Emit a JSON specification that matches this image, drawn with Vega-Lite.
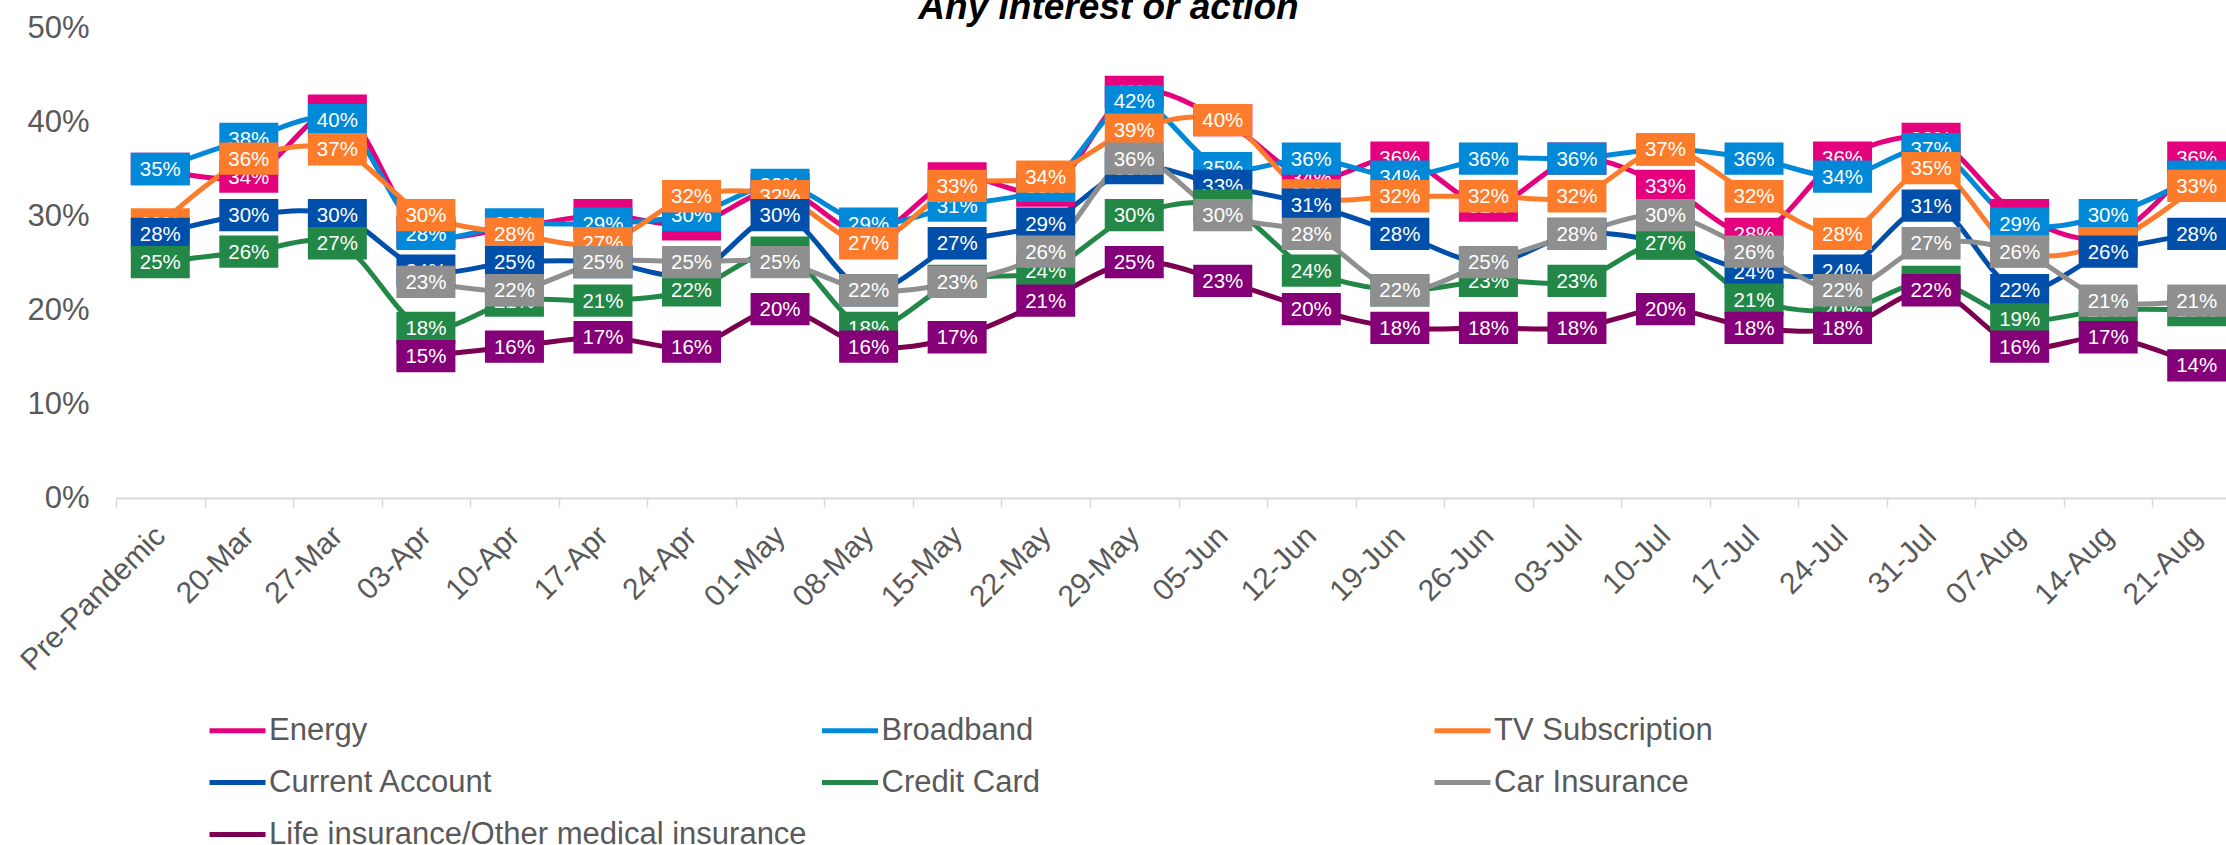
{
  "$schema": "https://vega.github.io/schema/vega-lite/v6.json",
  "width": 2125,
  "height": 470,
  "autosize": {"type": "none"},
  "padding": {"left": 116, "top": 28, "right": -15, "bottom": 347},
  "background": "white",
  "title": {"text": "Any interest or action", "font": "Liberation Sans", "fontSize": 37, "fontWeight": "bold", "fontStyle": "italic", "color": "#000000", "anchor": "middle", "frame": "group", "baseline": "alphabetic", "offset": 6, "dx": -70, "dy": 50},
  "config": {"view": {"stroke": null}, "font": "Liberation Sans"},
  "datasets": {
    "d": [
      {"d":"Pre-Pandemic","s":"Energy","v":0.350},{"d":"20-Mar","s":"Energy","v":0.342},{"d":"27-Mar","s":"Energy","v":0.412},{"d":"03-Apr","s":"Energy","v":0.283},{"d":"10-Apr","s":"Energy","v":0.288},{"d":"17-Apr","s":"Energy","v":0.301},{"d":"24-Apr","s":"Energy","v":0.291},{"d":"01-May","s":"Energy","v":0.328},{"d":"08-May","s":"Energy","v":0.280},{"d":"15-May","s":"Energy","v":0.340},{"d":"22-May","s":"Energy","v":0.327},{"d":"29-May","s":"Energy","v":0.432},{"d":"05-Jun","s":"Energy","v":0.402},{"d":"12-Jun","s":"Energy","v":0.340},{"d":"19-Jun","s":"Energy","v":0.362},{"d":"26-Jun","s":"Energy","v":0.311},{"d":"03-Jul","s":"Energy","v":0.361},{"d":"10-Jul","s":"Energy","v":0.332},{"d":"17-Jul","s":"Energy","v":0.281},{"d":"24-Jul","s":"Energy","v":0.362},{"d":"31-Jul","s":"Energy","v":0.382},{"d":"07-Aug","s":"Energy","v":0.301},{"d":"14-Aug","s":"Energy","v":0.277},{"d":"21-Aug","s":"Energy","v":0.362},
      {"d":"Pre-Pandemic","s":"Broadband","v":0.350},{"d":"20-Mar","s":"Broadband","v":0.382},{"d":"27-Mar","s":"Broadband","v":0.402},{"d":"03-Apr","s":"Broadband","v":0.281},{"d":"10-Apr","s":"Broadband","v":0.291},{"d":"17-Apr","s":"Broadband","v":0.292},{"d":"24-Apr","s":"Broadband","v":0.301},{"d":"01-May","s":"Broadband","v":0.333},{"d":"08-May","s":"Broadband","v":0.292},{"d":"15-May","s":"Broadband","v":0.311},{"d":"22-May","s":"Broadband","v":0.332},{"d":"29-May","s":"Broadband","v":0.422},{"d":"05-Jun","s":"Broadband","v":0.351},{"d":"12-Jun","s":"Broadband","v":0.361},{"d":"19-Jun","s":"Broadband","v":0.342},{"d":"26-Jun","s":"Broadband","v":0.361},{"d":"03-Jul","s":"Broadband","v":0.361},{"d":"10-Jul","s":"Broadband","v":0.371},{"d":"17-Jul","s":"Broadband","v":0.361},{"d":"24-Jul","s":"Broadband","v":0.342},{"d":"31-Jul","s":"Broadband","v":0.371},{"d":"07-Aug","s":"Broadband","v":0.292},{"d":"14-Aug","s":"Broadband","v":0.301},{"d":"21-Aug","s":"Broadband","v":0.342},
      {"d":"Pre-Pandemic","s":"TV Subscription","v":0.291},{"d":"20-Mar","s":"TV Subscription","v":0.361},{"d":"27-Mar","s":"TV Subscription","v":0.371},{"d":"03-Apr","s":"TV Subscription","v":0.301},{"d":"10-Apr","s":"TV Subscription","v":0.281},{"d":"17-Apr","s":"TV Subscription","v":0.271},{"d":"24-Apr","s":"TV Subscription","v":0.321},{"d":"01-May","s":"TV Subscription","v":0.321},{"d":"08-May","s":"TV Subscription","v":0.271},{"d":"15-May","s":"TV Subscription","v":0.332},{"d":"22-May","s":"TV Subscription","v":0.342},{"d":"29-May","s":"TV Subscription","v":0.392},{"d":"05-Jun","s":"TV Subscription","v":0.402},{"d":"12-Jun","s":"TV Subscription","v":0.322},{"d":"19-Jun","s":"TV Subscription","v":0.321},{"d":"26-Jun","s":"TV Subscription","v":0.321},{"d":"03-Jul","s":"TV Subscription","v":0.321},{"d":"10-Jul","s":"TV Subscription","v":0.371},{"d":"17-Jul","s":"TV Subscription","v":0.321},{"d":"24-Jul","s":"TV Subscription","v":0.281},{"d":"31-Jul","s":"TV Subscription","v":0.351},{"d":"07-Aug","s":"TV Subscription","v":0.262},{"d":"14-Aug","s":"TV Subscription","v":0.271},{"d":"21-Aug","s":"TV Subscription","v":0.332},
      {"d":"Pre-Pandemic","s":"Current Account","v":0.281},{"d":"20-Mar","s":"Current Account","v":0.301},{"d":"27-Mar","s":"Current Account","v":0.301},{"d":"03-Apr","s":"Current Account","v":0.242},{"d":"10-Apr","s":"Current Account","v":0.251},{"d":"17-Apr","s":"Current Account","v":0.251},{"d":"24-Apr","s":"Current Account","v":0.238},{"d":"01-May","s":"Current Account","v":0.301},{"d":"08-May","s":"Current Account","v":0.221},{"d":"15-May","s":"Current Account","v":0.271},{"d":"22-May","s":"Current Account","v":0.292},{"d":"29-May","s":"Current Account","v":0.351},{"d":"05-Jun","s":"Current Account","v":0.332},{"d":"12-Jun","s":"Current Account","v":0.312},{"d":"19-Jun","s":"Current Account","v":0.281},{"d":"26-Jun","s":"Current Account","v":0.250},{"d":"03-Jul","s":"Current Account","v":0.281},{"d":"10-Jul","s":"Current Account","v":0.271},{"d":"17-Jul","s":"Current Account","v":0.240},{"d":"24-Jul","s":"Current Account","v":0.242},{"d":"31-Jul","s":"Current Account","v":0.311},{"d":"07-Aug","s":"Current Account","v":0.221},{"d":"14-Aug","s":"Current Account","v":0.262},{"d":"21-Aug","s":"Current Account","v":0.281},
      {"d":"Pre-Pandemic","s":"Credit Card","v":0.251},{"d":"20-Mar","s":"Credit Card","v":0.262},{"d":"27-Mar","s":"Credit Card","v":0.271},{"d":"03-Apr","s":"Credit Card","v":0.181},{"d":"10-Apr","s":"Credit Card","v":0.210},{"d":"17-Apr","s":"Credit Card","v":0.210},{"d":"24-Apr","s":"Credit Card","v":0.221},{"d":"01-May","s":"Credit Card","v":0.261},{"d":"08-May","s":"Credit Card","v":0.181},{"d":"15-May","s":"Credit Card","v":0.231},{"d":"22-May","s":"Credit Card","v":0.242},{"d":"29-May","s":"Credit Card","v":0.301},{"d":"05-Jun","s":"Credit Card","v":0.311},{"d":"12-Jun","s":"Credit Card","v":0.242},{"d":"19-Jun","s":"Credit Card","v":0.221},{"d":"26-Jun","s":"Credit Card","v":0.231},{"d":"03-Jul","s":"Credit Card","v":0.231},{"d":"10-Jul","s":"Credit Card","v":0.271},{"d":"17-Jul","s":"Credit Card","v":0.211},{"d":"24-Jul","s":"Credit Card","v":0.200},{"d":"31-Jul","s":"Credit Card","v":0.230},{"d":"07-Aug","s":"Credit Card","v":0.190},{"d":"14-Aug","s":"Credit Card","v":0.200},{"d":"21-Aug","s":"Credit Card","v":0.200},
      {"d":"03-Apr","s":"Car Insurance","v":0.230},{"d":"10-Apr","s":"Car Insurance","v":0.221},{"d":"17-Apr","s":"Car Insurance","v":0.251},{"d":"24-Apr","s":"Car Insurance","v":0.251},{"d":"01-May","s":"Car Insurance","v":0.251},{"d":"08-May","s":"Car Insurance","v":0.221},{"d":"15-May","s":"Car Insurance","v":0.230},{"d":"22-May","s":"Car Insurance","v":0.262},{"d":"29-May","s":"Car Insurance","v":0.361},{"d":"05-Jun","s":"Car Insurance","v":0.301},{"d":"12-Jun","s":"Car Insurance","v":0.281},{"d":"19-Jun","s":"Car Insurance","v":0.221},{"d":"26-Jun","s":"Car Insurance","v":0.251},{"d":"03-Jul","s":"Car Insurance","v":0.281},{"d":"10-Jul","s":"Car Insurance","v":0.301},{"d":"17-Jul","s":"Car Insurance","v":0.262},{"d":"24-Jul","s":"Car Insurance","v":0.221},{"d":"31-Jul","s":"Car Insurance","v":0.271},{"d":"07-Aug","s":"Car Insurance","v":0.262},{"d":"14-Aug","s":"Car Insurance","v":0.210},{"d":"21-Aug","s":"Car Insurance","v":0.210},
      {"d":"03-Apr","s":"Life insurance/Other medical insurance","v":0.151},{"d":"10-Apr","s":"Life insurance/Other medical insurance","v":0.161},{"d":"17-Apr","s":"Life insurance/Other medical insurance","v":0.171},{"d":"24-Apr","s":"Life insurance/Other medical insurance","v":0.161},{"d":"01-May","s":"Life insurance/Other medical insurance","v":0.201},{"d":"08-May","s":"Life insurance/Other medical insurance","v":0.161},{"d":"15-May","s":"Life insurance/Other medical insurance","v":0.171},{"d":"22-May","s":"Life insurance/Other medical insurance","v":0.210},{"d":"29-May","s":"Life insurance/Other medical insurance","v":0.251},{"d":"05-Jun","s":"Life insurance/Other medical insurance","v":0.231},{"d":"12-Jun","s":"Life insurance/Other medical insurance","v":0.201},{"d":"19-Jun","s":"Life insurance/Other medical insurance","v":0.181},{"d":"26-Jun","s":"Life insurance/Other medical insurance","v":0.181},{"d":"03-Jul","s":"Life insurance/Other medical insurance","v":0.181},{"d":"10-Jul","s":"Life insurance/Other medical insurance","v":0.201},{"d":"17-Jul","s":"Life insurance/Other medical insurance","v":0.181},{"d":"24-Jul","s":"Life insurance/Other medical insurance","v":0.181},{"d":"31-Jul","s":"Life insurance/Other medical insurance","v":0.221},{"d":"07-Aug","s":"Life insurance/Other medical insurance","v":0.161},{"d":"14-Aug","s":"Life insurance/Other medical insurance","v":0.171},{"d":"21-Aug","s":"Life insurance/Other medical insurance","v":0.141}
    ]
  },
  "data": {"name": "d"},
  "encoding": {
    "x": {"field": "d", "type": "nominal",
      "scale": {"type": "band", "paddingInner": 0, "paddingOuter": 0, "domain": ["Pre-Pandemic","20-Mar","27-Mar","03-Apr","10-Apr","17-Apr","24-Apr","01-May","08-May","15-May","22-May","29-May","05-Jun","12-Jun","19-Jun","26-Jun","03-Jul","10-Jul","17-Jul","24-Jul","31-Jul","07-Aug","14-Aug","21-Aug"]},
      "axis": {"title": null, "labelAngle": -45, "labelAlign": "right", "labelBaseline": "middle", "labelFont": "Liberation Sans", "labelFontSize": 30, "labelColor": "#595959", "labelLimit": 0, "domainColor": "#D9D9D9", "domainWidth": 2, "tickColor": "#D9D9D9", "tickWidth": 1.5, "tickSize": 9, "tickBand": "extent", "labelPadding": 24, "grid": false, "labelOverlap": false, "labelBound": false, "labelFlush": false}},
    "y": {"field": "v", "type": "quantitative",
      "scale": {"domain": [0, 0.5], "nice": false},
      "axis": {"title": null, "values": [0, 0.1, 0.2, 0.3, 0.4, 0.5], "format": ".0%", "domain": false, "ticks": false, "grid": false, "labelFont": "Liberation Sans", "labelFontSize": 31, "labelColor": "#595959", "labelPadding": 27}}
  },
  "layer": [
    {"mark": {"type": "line", "interpolate": "catmull-rom", "strokeWidth": 5},
     "encoding": {"color": {"field": "s", "type": "nominal",
       "scale": {"domain": ["Energy","Broadband","TV Subscription","Current Account","Credit Card","Car Insurance","Life insurance/Other medical insurance"],
                 "range": ["#E5007E","#0088D9","#FD7C2B","#004FAA","#238847","#8F8F8F","#7B0051"]},
       "legend": {"orient": "none", "legendX": 91, "legendY": 672, "direction": "horizontal", "columns": 3, "title": null, "labelFont": "Liberation Sans", "labelFontSize": 31, "labelColor": "#595959", "symbolType": "stroke", "symbolSize": 3136, "symbolStrokeWidth": 5, "labelOffset": 1, "columnPadding": 4.5, "rowPadding": 6, "gridAlign": "all", "padding": 0, "labelLimit": 0}}}},
    {"transform": [{"filter": "datum.s === 'Energy'"}], "mark": {"type": "point", "shape": "M-1,-0.547L1,-0.547L1,0.547L-1,0.547Z", "size": 3481, "filled": true, "opacity": 1, "color": "#E5007E", "strokeWidth": 0}},
    {"transform": [{"filter": "datum.s === 'Energy'"}], "mark": {"type": "text", "color": "white", "font": "Liberation Sans", "fontSize": 20.5, "baseline": "middle", "dy": 1}, "encoding": {"text": {"field": "v", "type": "quantitative", "format": ".0%"}}},
    {"transform": [{"filter": "datum.s === 'Broadband'"}], "mark": {"type": "point", "shape": "M-1,-0.547L1,-0.547L1,0.547L-1,0.547Z", "size": 3481, "filled": true, "opacity": 1, "color": "#0088D9", "strokeWidth": 0}},
    {"transform": [{"filter": "datum.s === 'Broadband'"}], "mark": {"type": "text", "color": "white", "font": "Liberation Sans", "fontSize": 20.5, "baseline": "middle", "dy": 1}, "encoding": {"text": {"field": "v", "type": "quantitative", "format": ".0%"}}},
    {"transform": [{"filter": "datum.s === 'TV Subscription'"}], "mark": {"type": "point", "shape": "M-1,-0.547L1,-0.547L1,0.547L-1,0.547Z", "size": 3481, "filled": true, "opacity": 1, "color": "#FD7C2B", "strokeWidth": 0}},
    {"transform": [{"filter": "datum.s === 'TV Subscription'"}], "mark": {"type": "text", "color": "white", "font": "Liberation Sans", "fontSize": 20.5, "baseline": "middle", "dy": 1}, "encoding": {"text": {"field": "v", "type": "quantitative", "format": ".0%"}}},
    {"transform": [{"filter": "datum.s === 'Current Account'"}], "mark": {"type": "point", "shape": "M-1,-0.547L1,-0.547L1,0.547L-1,0.547Z", "size": 3481, "filled": true, "opacity": 1, "color": "#004FAA", "strokeWidth": 0}},
    {"transform": [{"filter": "datum.s === 'Current Account'"}], "mark": {"type": "text", "color": "white", "font": "Liberation Sans", "fontSize": 20.5, "baseline": "middle", "dy": 1}, "encoding": {"text": {"field": "v", "type": "quantitative", "format": ".0%"}}},
    {"transform": [{"filter": "datum.s === 'Credit Card'"}], "mark": {"type": "point", "shape": "M-1,-0.547L1,-0.547L1,0.547L-1,0.547Z", "size": 3481, "filled": true, "opacity": 1, "color": "#238847", "strokeWidth": 0}},
    {"transform": [{"filter": "datum.s === 'Credit Card'"}], "mark": {"type": "text", "color": "white", "font": "Liberation Sans", "fontSize": 20.5, "baseline": "middle", "dy": 1}, "encoding": {"text": {"field": "v", "type": "quantitative", "format": ".0%"}}},
    {"transform": [{"filter": "datum.s === 'Car Insurance'"}], "mark": {"type": "point", "shape": "M-1,-0.547L1,-0.547L1,0.547L-1,0.547Z", "size": 3481, "filled": true, "opacity": 1, "color": "#8F8F8F", "strokeWidth": 0}},
    {"transform": [{"filter": "datum.s === 'Car Insurance'"}], "mark": {"type": "text", "color": "white", "font": "Liberation Sans", "fontSize": 20.5, "baseline": "middle", "dy": 1}, "encoding": {"text": {"field": "v", "type": "quantitative", "format": ".0%"}}},
    {"transform": [{"filter": "datum.s === 'Life insurance/Other medical insurance'"}], "mark": {"type": "point", "shape": "M-1,-0.547L1,-0.547L1,0.547L-1,0.547Z", "size": 3481, "filled": true, "opacity": 1, "color": "#850078", "strokeWidth": 0}},
    {"transform": [{"filter": "datum.s === 'Life insurance/Other medical insurance'"}], "mark": {"type": "text", "color": "white", "font": "Liberation Sans", "fontSize": 20.5, "baseline": "middle", "dy": 1}, "encoding": {"text": {"field": "v", "type": "quantitative", "format": ".0%"}}}
  ]
}
